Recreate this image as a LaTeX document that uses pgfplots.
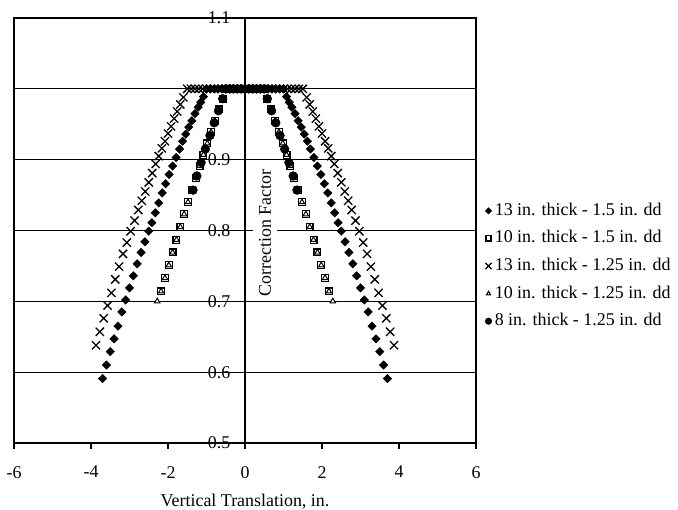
\documentclass[border=0pt]{standalone}
\usepackage{fontspec}
\setmainfont{Liberation Serif}
\usepackage{pgfplots}
\usepackage{pgfplotstable}
\pgfplotsset{compat=1.18}

% Correction factor vs. vertical translation (in.)
% 13 in. thick slab, 1.5 in. dowel
\pgfplotstableread{
x y
-3.7 0.591
-3.6 0.610
-3.5 0.629
-3.4 0.647
-3.3 0.665
-3.2 0.685
-3.1 0.702
-3.0 0.719
-2.9 0.736
-2.8 0.753
-2.7 0.769
-2.6 0.784
-2.5 0.799
-2.42 0.811
-2.33 0.825
-2.24 0.839
-2.15 0.853
-2.06 0.866
-1.97 0.879
-1.88 0.891
-1.79 0.903
-1.70 0.915
-1.62 0.926
-1.54 0.936
-1.46 0.946
-1.38 0.955
-1.30 0.965
-1.22 0.974
-1.15 0.981
-1.08 0.989
-1.0 1.0
-0.9 1.0
-0.8 1.0
-0.7 1.0
-0.6 1.0
-0.5 1.0
-0.4 1.0
-0.3 1.0
-0.2 1.0
-0.1 1.0
0.0 1.0
0.1 1.0
0.2 1.0
0.3 1.0
0.4 1.0
0.5 1.0
0.6 1.0
0.7 1.0
0.8 1.0
0.9 1.0
1.0 1.0
1.08 0.989
1.15 0.981
1.22 0.974
1.30 0.965
1.38 0.955
1.46 0.946
1.54 0.936
1.62 0.926
1.70 0.915
1.79 0.903
1.88 0.891
1.97 0.879
2.06 0.866
2.15 0.853
2.24 0.839
2.33 0.825
2.42 0.811
2.5 0.799
2.6 0.784
2.7 0.769
2.8 0.753
2.9 0.736
3.0 0.719
3.1 0.702
3.2 0.685
3.3 0.665
3.4 0.647
3.5 0.629
3.6 0.610
3.7 0.591
}\thickA

% 10 in. thick slab, 1.5 in. dowel
\pgfplotstableread{
x y
-2.18 0.714
-2.08 0.733
-1.98 0.751
-1.88 0.769
-1.78 0.787
-1.68 0.805
-1.58 0.823
-1.48 0.840
-1.38 0.857
-1.28 0.874
-1.18 0.891
-1.08 0.907
-0.98 0.923
-0.88 0.939
-0.78 0.955
-0.68 0.971
-0.58 0.986
-0.5 1.0
-0.4 1.0
-0.3 1.0
-0.2 1.0
-0.1 1.0
0.0 1.0
0.1 1.0
0.2 1.0
0.3 1.0
0.4 1.0
0.5 1.0
0.58 0.986
0.68 0.971
0.78 0.955
0.88 0.939
0.98 0.923
1.08 0.907
1.18 0.891
1.28 0.874
1.38 0.857
1.48 0.840
1.58 0.823
1.68 0.805
1.78 0.787
1.88 0.769
1.98 0.751
2.08 0.733
2.18 0.714
}\thickB

% 13 in. thick slab, 1.25 in. dowel
\pgfplotstableread{
x y
-3.87 0.638
-3.77 0.657
-3.67 0.676
-3.57 0.694
-3.47 0.712
-3.37 0.731
-3.27 0.749
-3.17 0.767
-3.07 0.783
-2.97 0.799
-2.87 0.814
-2.77 0.829
-2.68 0.842
-2.59 0.855
-2.50 0.868
-2.41 0.881
-2.32 0.894
-2.24 0.905
-2.16 0.916
-2.08 0.926
-2.00 0.937
-1.92 0.947
-1.84 0.958
-1.76 0.968
-1.68 0.978
-1.60 0.988
-1.5 1.0
-1.4 1.0
-1.3 1.0
-1.2 1.0
-1.1 1.0
-1.0 1.0
-0.9 1.0
-0.8 1.0
-0.7 1.0
-0.6 1.0
-0.5 1.0
-0.4 1.0
-0.3 1.0
-0.2 1.0
-0.1 1.0
0.0 1.0
0.1 1.0
0.2 1.0
0.3 1.0
0.4 1.0
0.5 1.0
0.6 1.0
0.7 1.0
0.8 1.0
0.9 1.0
1.0 1.0
1.1 1.0
1.2 1.0
1.3 1.0
1.4 1.0
1.5 1.0
1.60 0.988
1.68 0.978
1.76 0.968
1.84 0.958
1.92 0.947
2.00 0.937
2.08 0.926
2.16 0.916
2.24 0.905
2.32 0.894
2.41 0.881
2.50 0.868
2.59 0.855
2.68 0.842
2.77 0.829
2.87 0.814
2.97 0.799
3.07 0.783
3.17 0.767
3.27 0.749
3.37 0.731
3.47 0.712
3.57 0.694
3.67 0.676
3.77 0.657
3.87 0.638
}\thickC

% 10 in. thick slab, 1.25 in. dowel
\pgfplotstableread{
x y
-2.28 0.700
-2.18 0.714
-2.08 0.733
-1.98 0.751
-1.88 0.769
-1.78 0.787
-1.68 0.805
-1.58 0.823
-1.48 0.840
-1.38 0.857
-1.28 0.874
-1.18 0.891
-1.08 0.907
-0.98 0.923
-0.88 0.939
-0.78 0.955
-0.68 0.971
-0.58 0.986
-0.5 1.0
-0.4 1.0
-0.3 1.0
-0.2 1.0
-0.1 1.0
0.0 1.0
0.1 1.0
0.2 1.0
0.3 1.0
0.4 1.0
0.5 1.0
0.58 0.986
0.68 0.971
0.78 0.955
0.88 0.939
0.98 0.923
1.08 0.907
1.18 0.891
1.28 0.874
1.38 0.857
1.48 0.840
1.58 0.823
1.68 0.805
1.78 0.787
1.88 0.769
1.98 0.751
2.08 0.733
2.18 0.714
2.28 0.700
}\thickD

% 8 in. thick slab, 1.25 in. dowel
\pgfplotstableread{
x y
-1.35 0.857
-1.25 0.877
-1.14 0.896
-1.03 0.915
-0.91 0.934
-0.80 0.952
-0.69 0.969
-0.58 0.986
-0.5 1.0
-0.4 1.0
-0.3 1.0
-0.2 1.0
-0.1 1.0
0.0 1.0
0.1 1.0
0.2 1.0
0.3 1.0
0.4 1.0
0.5 1.0
0.58 0.986
0.69 0.969
0.80 0.952
0.91 0.934
1.03 0.915
1.14 0.896
1.25 0.877
1.35 0.857
}\thickE

\begin{document}
\fontsize{18}{21.5}\selectfont
\begin{tikzpicture}
\useasboundingbox (-14bp,-67bp) rectangle (664bp,443bp);
\begin{axis}[
  scale only axis,
  width=462bp, height=425bp,
  xmin=-6, xmax=6, ymin=0.5, ymax=1.1,
  xtick={-6,-4,-2,0,2,4,6},
  xticklabels={-6,-4,-2,0,2,4,6},
  ytick={0.5,0.6,0.7,0.8,0.9,1.0,1.1},
  yticklabels={0.5,0.6,0.7,0.8,0.9,,1.1},
  ymajorgrids,
  major grid style={black, line width=1.3bp},
  axis line style={black, line width=1.3bp},
  tick align=outside,
  xtick pos=bottom,
  major tick length=6bp,
  x tick style={black, line width=1.1bp},
  y tick style={draw=none},
  extra x ticks={0},
  extra x tick labels={},
  extra x tick style={xmajorgrids=true, major tick length=0pt},
  xticklabel style={yshift=-11bp},
  yticklabel style={xshift=228.5bp},
  xlabel={Vertical Translation, in.},
  xlabel style={at={(axis description cs:0.5,0)}, anchor=center, yshift=-58.5bp},
  ylabel={Correction Factor},
  ylabel style={at={(axis description cs:0.5,0.5)}, anchor=center,
    yshift=-20bp, xshift=-2.5bp, fill=white, inner xsep=2bp, inner ysep=6bp},
  legend style={draw=none, fill=none, at={(axis description cs:1,0.42)},
    anchor=west, xshift=6bp, yshift=-1.5bp, row sep=10.6bp, column sep=3bp,
    nodes={inner sep=0pt, text height=13bp, text depth=4bp}},
  legend cell align=left,
  legend image code/.code={\draw[mark repeat=2,mark phase=2,#1]
    plot coordinates {(0bp,0bp)(4bp,0bp)(8bp,0bp)};},
  legend image post style={scale=0.75},
]
\addplot[only marks, mark=square*, mark size=3.0bp,
  mark options={rotate=45, fill=black, draw=black}] table {\thickA};
\addlegendentry{13 in. thick - 1.5 in. dd}
\addplot[only marks, mark=square*, mark size=3.4bp,
  mark options={fill=white, draw=black, line width=1.2bp}] table {\thickB};
\addlegendentry{10 in. thick - 1.5 in. dd}
\addplot[only marks, mark=x, mark size=5.8bp,
  mark options={draw=black, line width=1.3bp}] table {\thickC};
\addlegendentry{13 in. thick - 1.25 in. dd}
\addplot[only marks, mark=triangle*, mark size=3.1bp,
  mark options={fill=white, draw=black, line width=1bp}] table {\thickD};
\addlegendentry{10 in. thick - 1.25 in. dd}
\addplot[only marks, mark=*, mark size=4.4bp,
  mark options={fill=black, draw=black}] table {\thickE};
\addlegendentry{8 in. thick - 1.25 in. dd}
\end{axis}
\end{tikzpicture}
\end{document}
